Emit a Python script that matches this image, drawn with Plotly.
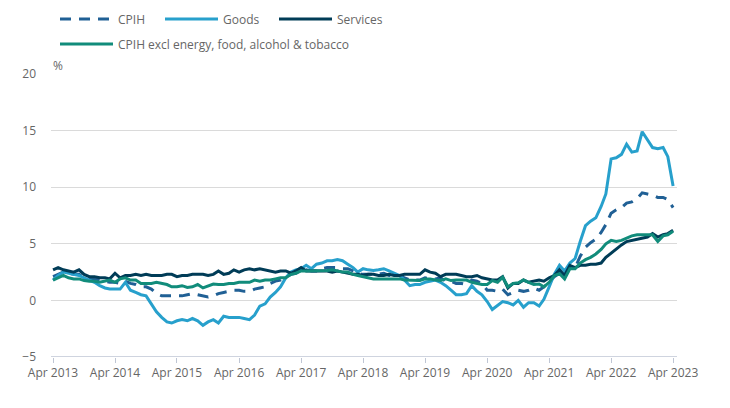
import pandas as pd
import plotly.graph_objects as go

# Monthly, Apr 2013 .. Apr 2023 (121 months)
months = pd.date_range("2013-04-01", periods=121, freq="MS")
tick_labels = [f"Apr {y}" for y in range(2013, 2024)]
tick_dates = [f"{y}-04-01" for y in range(2013, 2024)]

cpih = [
    2.1, 2.3, 2.5, 2.4, 2.3, 2.3, 2.0, 1.9, 1.9, 1.8, 1.7, 1.6,
    1.6, 1.5, 1.7, 1.5, 1.4, 1.2, 1.2, 1.0, 0.6, 0.4, 0.4, 0.4,
    0.4, 0.4, 0.5, 0.6, 0.5, 0.4, 0.3, 0.4, 0.6, 0.7, 0.8, 0.9,
    0.9, 0.8, 0.8, 1.0, 1.1, 1.2, 1.5, 1.7, 1.8, 2.1, 2.3, 2.4,
    2.6, 2.7, 2.6, 2.6, 2.8, 2.9, 2.9, 2.9, 2.8, 2.8, 2.6, 2.4,
    2.3, 2.3, 2.3, 2.3, 2.4, 2.2, 2.2, 2.2, 2.0, 1.8, 1.8, 1.8,
    2.0, 1.9, 1.9, 2.0, 1.7, 1.7, 1.5, 1.5, 1.4, 1.8, 1.7, 1.5,
    0.9, 0.9, 0.8, 1.0, 0.5, 0.7, 0.9, 0.8, 0.9, 1.1, 0.9, 1.2,
    1.6, 2.1, 2.4, 2.1, 3.0, 2.9, 3.9, 4.7, 5.1, 5.4, 6.0, 6.7,
    7.7, 8.0, 8.2, 8.6, 8.7, 9.0, 9.5, 9.4, 9.3, 9.1, 9.1, 8.9,
    8.2,
]

goods = [
    1.8, 2.2, 2.5, 2.4, 2.3, 2.2, 2.0, 1.8, 1.6, 1.3, 1.1, 1.0,
    1.0, 1.0, 1.6, 0.9, 0.7, 0.5, 0.4, -0.3, -1.0, -1.5, -1.9, -2.0,
    -1.8, -1.7, -1.8, -1.6, -1.8, -2.2, -1.9, -1.7, -2.0, -1.4, -1.5, -1.5,
    -1.5, -1.6, -1.7, -1.3, -0.5, -0.3, 0.3, 0.7, 1.2, 2.0, 2.5, 2.7,
    2.8, 3.1, 2.8, 3.2, 3.3, 3.5, 3.5, 3.6, 3.5, 3.2, 2.9, 2.5,
    2.8, 2.7, 2.65, 2.7, 2.8, 2.6, 2.4, 2.2, 1.8, 1.3, 1.4, 1.4,
    1.6, 1.7, 1.8, 1.6, 1.3, 0.9, 0.5, 0.5, 0.6, 1.3, 0.8, 0.5,
    -0.1, -0.8, -0.4, -0.1, -0.2, -0.4, 0.0, -0.6, -0.2, -0.2, -0.5, 0.1,
    1.2, 2.3, 3.1, 2.6, 3.3, 3.7, 5.2, 6.6, 7.0, 7.3, 8.3, 9.4,
    12.5, 12.6, 12.9, 13.8, 13.1, 13.2, 14.9, 14.2, 13.5, 13.4, 13.5, 12.7,
    10.1,
]

services = [
    2.7, 2.9, 2.7, 2.6, 2.5, 2.7, 2.3, 2.1, 2.1, 2.0, 2.0, 1.9,
    2.4, 2.0, 2.2, 2.2, 2.3, 2.2, 2.3, 2.2, 2.2, 2.2, 2.3, 2.3,
    2.1, 2.2, 2.2, 2.3, 2.3, 2.3, 2.2, 2.3, 2.6, 2.3, 2.4, 2.7,
    2.5, 2.7, 2.8, 2.7, 2.8, 2.7, 2.6, 2.5, 2.6, 2.6, 2.4, 2.6,
    2.9, 2.6, 2.6, 2.6, 2.6, 2.6, 2.5, 2.6, 2.5, 2.4, 2.3, 2.3,
    2.2, 2.3, 2.3, 2.2, 2.2, 2.3, 2.2, 2.2, 2.3, 2.3, 2.3, 2.3,
    2.7, 2.5, 2.4, 2.1, 2.3, 2.3, 2.3, 2.2, 2.1, 2.1, 2.2, 2.0,
    1.9, 1.8, 1.8, 2.1, 1.1, 1.5, 1.5, 1.8, 1.6, 1.7, 1.8, 1.7,
    2.0, 2.2, 2.7, 2.2, 3.1, 2.9, 3.1, 3.1, 3.2, 3.2, 3.3, 3.8,
    4.2, 4.5, 4.9, 5.2, 5.3, 5.4, 5.5, 5.6, 5.9, 5.6, 5.8, 5.9,
    6.2,
]

core = [
    1.8, 2.0, 2.2, 2.0, 1.9, 1.9, 1.75, 1.7, 1.7, 1.6, 1.7, 1.8,
    1.6, 1.9, 2.0, 1.8, 1.8, 1.5, 1.5, 1.5, 1.6, 1.5, 1.4, 1.2,
    1.2, 1.3, 1.15, 1.2, 1.4, 1.1, 1.3, 1.45, 1.4, 1.4, 1.5, 1.5,
    1.6, 1.6, 1.6, 1.8, 1.7, 1.8, 1.8, 1.9, 2.0, 2.0, 2.3, 2.4,
    2.6, 2.6, 2.6, 2.65, 2.6, 2.65, 2.7, 2.6, 2.5, 2.5, 2.3, 2.2,
    2.1, 2.0, 1.9, 1.9, 1.9, 1.9, 1.9, 1.9, 1.8, 1.8, 1.8, 1.75,
    1.9, 1.9, 1.8, 1.75, 1.9, 1.75, 1.8, 1.8, 1.8, 1.6, 1.5, 1.4,
    1.4, 1.75, 1.6, 2.05, 1.2, 1.5, 1.55, 1.8, 1.6, 1.4, 1.45, 1.2,
    1.6, 2.2, 2.35, 1.9, 2.8, 2.8, 3.3, 3.6, 3.8, 4.1, 4.5, 5.0,
    5.3, 5.2, 5.3, 5.5, 5.7, 5.8, 5.8, 5.8, 5.8, 5.2, 5.7, 5.8,
    6.1,
]

series = [
    ("CPIH", cpih, "#206095", "11px,8px", "legend", 55, 19),
    ("Goods", goods, "#27a0cc", "solid", "legend2", 160, 19),
    ("Services", services, "#003c57", "solid", "legend3", 274, 19),
    ("CPIH excl energy, food, alcohol & tobacco", core, "#118c7b", "solid", "legend4", 55, 44),
]

fig = go.Figure()
for name, vals, col, dash, leg, _, _ in series:
    fig.add_trace(go.Scatter(
        x=months, y=vals, name=name, mode="lines",
        line=dict(color=col, width=3, dash=dash),
        legend=leg,
    ))

text_col = "#666666"
leg_common = dict(
    orientation="h", xref="container", yref="container",
    xanchor="left", yanchor="middle", itemwidth=53,
    font=dict(family="Open Sans", size=12, color=text_col),
    bgcolor="rgba(0,0,0,0)", borderwidth=0,
)
layout_legends = {}
for name, vals, col, dash, leg, xpx, ypx in series:
    layout_legends[leg] = dict(leg_common, x=xpx / 730, y=1 - ypx / 408)

fig.update_layout(
    width=730, height=408,
    margin=dict(l=51, r=53, t=74, b=51, autoexpand=False),
    paper_bgcolor="white", plot_bgcolor="white",
    font=dict(family="Open Sans", size=12, color=text_col),
    showlegend=True,
    **layout_legends,
)

fig.update_xaxes(
    type="date",
    range=["2013-03-20", "2023-04-24"],
    tickvals=tick_dates, ticktext=tick_labels,
    showgrid=False, zeroline=False,
    showline=False,
    ticks="outside", ticklen=5, tickcolor="#bfc6d4", tickwidth=1,
    tickfont=dict(family="Open Sans", size=12, color=text_col),
)
fig.update_yaxes(
    range=[-5, 20], tickvals=[-5, 0, 5, 10, 15, 20],
    showgrid=True, gridcolor="#dadada", gridwidth=1,
    zeroline=False, showline=False, ticks="",
    ticklabelstandoff=14,
    tickfont=dict(family="Open Sans", size=12, color=text_col),
)
# bottom axis line at -5
fig.add_hline(y=-5, line=dict(color="#bfc6d4", width=1.5), layer="above")

fig.add_annotation(
    text="%", xref="paper", yref="paper", x=0, y=1,
    xanchor="left", yanchor="bottom", showarrow=False,
    font=dict(family="Open Sans", size=12, color=text_col),
    yshift=-2,
)

fig.write_html(
    "out.html",
    config={"displayModeBar": False},
    post_script="document.body.style.margin='0';document.body.style.padding='0';",
)
